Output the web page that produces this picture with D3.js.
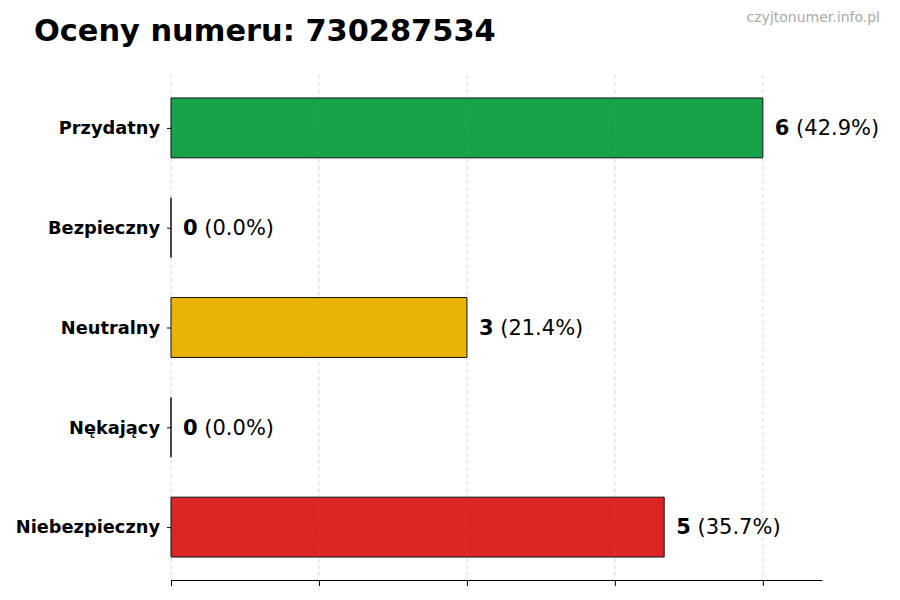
<!DOCTYPE html>
<html>
<head>
<meta charset="utf-8">
<script src="https://cdn.jsdelivr.net/npm/d3@7"></script>
<style>
  body { margin: 0; background: #fff; }
  text { font-family: 'DejaVu Sans', sans-serif; }
</style>
</head>
<body>
<div id="chart"></div>
<script>
const categories = ['Przydatny', 'Bezpieczny', 'Neutralny', 'Nękający', 'Niebezpieczny']
const counts = [6, 0, 3, 0, 5]
const percents = ['42.9%', '0.0%', '21.4%', '0.0%', '35.7%']
const colors = ['#17a34a', '#17a34a', '#e9b308', '#dc2626', '#dc2626']
const xTicks = [0, 1.5, 3, 4.5, 6]

const width = 900
const height = 600
const margin = { top: 75, right: 78, bottom: 20, left: 171 }

const svg = d3.select('#chart').append('svg')
  .attr('width', width)
  .attr('height', height)

// scales
const x = d3.scaleLinear()
  .domain([0, d3.max(counts) * 1.1])
  .range([margin.left, width - margin.right])

const y = d3.scaleLinear()
  .domain([-0.53, categories.length - 1 + 0.53])
  .range([margin.top, height - margin.bottom])

const barH = y(0.3) - y(-0.3)

// GRID
svg.append('g')
  .attr('class', 'grid')
  .selectAll('line')
  .data(xTicks)
  .enter().append('line')
  .attr('x1', d => x(d))
  .attr('x2', d => x(d))
  .attr('y1', margin.top)
  .attr('y2', height - margin.bottom)
  .attr('stroke', '#ccc')
  .attr('stroke-width', 0.8)
  .attr('stroke-dasharray', '4 3')

// BARS (paths so that zero bars still show their edge)
svg.append('g')
  .attr('class', 'bars')
  .selectAll('path')
  .data(counts)
  .enter().append('path')
  .attr('d', (d, i) => {
    const y0 = y(i) - barH / 2
    return `M${x(0)},${y0}H${x(d)}V${y0 + barH}H${x(0)}Z`
  })
  .attr('fill', (d, i) => colors[i])
  .attr('stroke', '#111')
  .attr('stroke-width', 1)

// grid over bars, faint
svg.append('g')
  .selectAll('line')
  .data(xTicks.slice(1))
  .enter().append('line')
  .attr('x1', d => x(d))
  .attr('x2', d => x(d))
  .attr('y1', margin.top)
  .attr('y2', height - margin.bottom)
  .attr('stroke', '#fff')
  .attr('stroke-opacity', 0.1)
  .attr('stroke-width', 0.8)
  .attr('stroke-dasharray', '4 3')

// VALUE LABELS
const labels = svg.append('g')
  .attr('class', 'value-labels')
  .selectAll('text')
  .data(counts)
  .enter().append('text')
  .attr('x', d => x(d) + 12)
  .attr('y', (d, i) => y(i))
  .attr('dy', '0.35em')
  .attr('font-size', 21)
  .attr('fill', '#000')

labels.append('tspan')
  .attr('font-weight', 'bold')
  .text(d => d)
labels.append('tspan')
  .text((d, i) => ` (${percents[i]})`)

// X-AXIS
const xAxis = d3.axisBottom(x)
  .tickValues(xTicks)
  .tickSize(6)
  .tickSizeOuter(0)
  .tickFormat('')

svg.append('g')
  .attr('class', 'x-axis')
  .attr('transform', `translate(0 ${height - margin.bottom})`)
  .call(xAxis)
  .call(g => g.select('.domain').attr('stroke', '#000').attr('stroke-width', 1))
  .call(g => g.selectAll('.tick line').attr('stroke', '#000'))

// Y-AXIS
const yAxis = d3.axisLeft(y)
  .tickValues(d3.range(categories.length))
  .tickSize(4)
  .tickPadding(7)
  .tickFormat(i => categories[i])

svg.append('g')
  .attr('class', 'y-axis')
  .attr('transform', `translate(${margin.left} 0)`)
  .call(yAxis)
  .call(g => g.select('.domain').remove())
  .call(g => g.selectAll('.tick line').attr('stroke', '#000'))
  .call(g => g.selectAll('.tick text')
    .attr('font-family', "'DejaVu Sans', sans-serif")
    .attr('font-size', 17.8)
    .attr('font-weight', 'bold')
    .attr('fill', '#000'))

// TITLE
svg.append('text')
  .attr('x', 34)
  .attr('y', 41)
  .attr('font-size', 30.4)
  .attr('font-weight', 'bold')
  .text('Oceny numeru: 730287534')

svg.append('text')
  .attr('x', 880)
  .attr('y', 22)
  .attr('text-anchor', 'end')
  .attr('font-size', 14)
  .attr('fill', '#aaa')
  .text('czyjtonumer.info.pl')
</script>
</body>
</html>
